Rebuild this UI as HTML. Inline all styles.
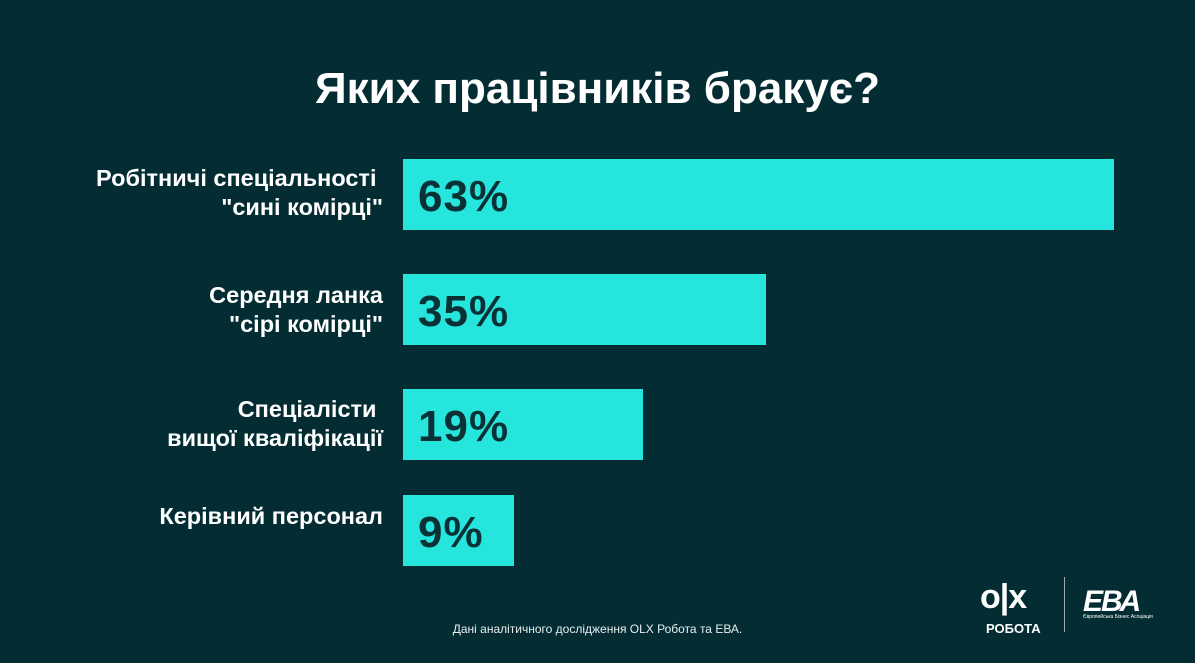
<!DOCTYPE html>
<html><head><meta charset="utf-8"><style>
body{margin:0;width:1195px;height:663px;background:#032d33;overflow:hidden;position:relative;font-family:"Liberation Sans","DejaVu Sans",sans-serif;color:#fff}
.t{position:absolute;left:0;width:1195px;top:64px;text-align:center;font-size:44px;font-weight:bold}
.bar{position:absolute;left:403px;height:71px;background:#25e5dc}
.bar span{position:absolute;left:15px;top:13px;font-size:44px;font-weight:bold;color:#0a3136;letter-spacing:1px}
.lab{position:absolute;right:812px;text-align:right;font-size:23.5px;font-weight:bold;line-height:29px;white-space:nowrap}
.src{position:absolute;left:0;width:1195px;text-align:center;top:622px;font-size:12px;color:#e8eeee}
</style></head><body>
<div class="t">Яких працівників бракує?</div>
<div class="lab" style="top:164px">Робітничі спеціальності&nbsp;<br>"сині комірці"</div>
<div class="bar" style="top:159px;width:711px"><span>63%</span></div>
<div class="lab" style="top:281px">Середня ланка<br>"сірі комірці"</div>
<div class="bar" style="top:274px;width:363px"><span>35%</span></div>
<div class="lab" style="top:395px">Спеціалісти&nbsp;<br>вищої кваліфікації</div>
<div class="bar" style="top:389px;width:240px"><span>19%</span></div>
<div class="lab" style="top:502px">Керівний персонал</div>
<div class="bar" style="top:495px;width:111px"><span>9%</span></div>
<div class="src">Дані аналітичного дослідження OLX Робота та ЕВА.</div>
<div style="position:absolute;left:980px;top:577px;font-size:34px;font-weight:900;letter-spacing:-1px;line-height:40px">o|x</div>
<div style="position:absolute;left:986px;top:621px;font-size:13px;font-weight:bold">РОБОТА</div>
<div style="position:absolute;left:1064px;top:577px;width:1px;height:55px;background:#9aa"></div>
<div style="position:absolute;left:1083px;top:585px;font-size:30px;font-weight:bold;font-style:italic;letter-spacing:-2px">ЕВА</div>
<div style="position:absolute;left:1083px;top:614px;font-size:5px">Європейська Бізнес Асоціація</div>
</body></html>
